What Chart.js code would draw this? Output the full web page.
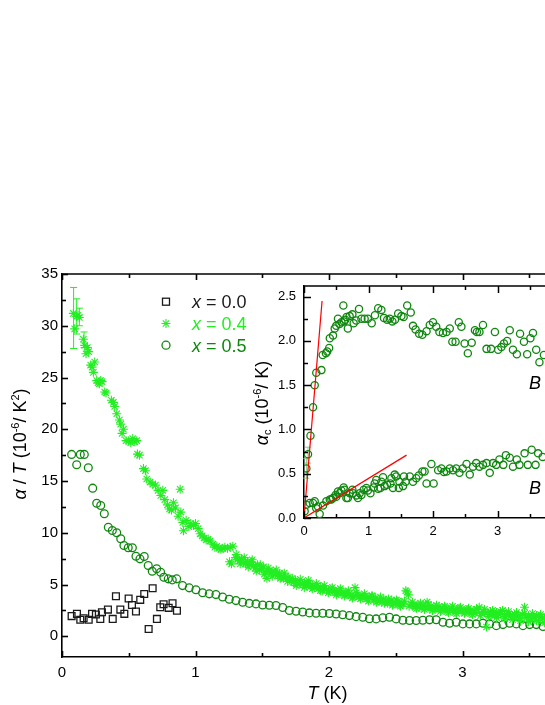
<!DOCTYPE html>
<html>
<head>
<meta charset="utf-8">
<script src="https://cdn.jsdelivr.net/npm/chart.js@4.4.1/dist/chart.umd.min.js"></script>
<style>
html,body{margin:0;padding:0;background:#fff;}
#wrap{position:relative;width:545px;height:705px;overflow:hidden;background:#fff;}
canvas{position:absolute;left:0;top:0;}
</style>
</head>
<body>
<div id="wrap">
<canvas id="main" width="640" height="705"></canvas>
<canvas id="inset" width="640" height="705"></canvas>
</div>
<script>
// ---------------- DATA ----------------
// Main panel: alpha/T (10^-6 / K^2) vs T (K)
const seriesNames = ['x = 0.0', 'x = 0.4', 'x = 0.5'];

const x00_T = [0.072,0.112,0.137,0.162,0.2,0.225,0.254,0.287,0.299,0.344,0.38,0.404,0.437,0.467,0.499,0.524,0.554,0.586,0.616,0.649,0.679,0.711,0.736,0.761,0.799,0.828,0.861];
const x00_V = [1.95,2.17,1.6,1.74,1.6,2.17,2.1,1.68,2.32,2.58,1.68,3.87,2.58,2.17,3.65,3.03,2.39,3.52,4.08,0.71,4.64,1.68,2.8,3.1,2.75,3.19,2.47];

const x04_T = [0.085,0.095,0.11,0.12,0.13,0.16,0.17,0.18,0.19,0.2,0.215,0.225,0.235,0.245,0.26,0.27,0.28,0.29,0.3,0.32,0.33,0.37,0.385,0.395,0.41,0.43,0.44,0.45,0.46,0.48,0.5,0.515,0.53,0.545,0.56,0.565,0.58,0.61,0.625,0.635,0.66,0.68,0.7,0.72,0.74,0.755,0.77,0.79,0.805,0.82,0.835,0.85,0.87,0.885,0.89,0.905,0.91,0.93,0.95,0.965,0.985,1.0,1.02,1.035,1.05,1.065,1.08,1.095,1.11,1.13,1.145,1.16,1.175,1.19,1.205,1.22,1.24,1.255,1.26,1.27,1.28,1.3,1.315,1.33,1.345,1.36,1.375,1.39,1.405,1.42,1.435,1.45,1.465,1.48,1.495,1.51,1.52,1.535,1.55,1.565,1.58,1.6,1.615,1.63,1.645,1.66,1.675,1.69,1.705,1.72,1.735,1.75,1.765,1.78,1.8,1.815,1.83,1.845,1.86,1.875,1.89,1.905,1.92,1.935,1.95,1.965,1.98,2.0,2.015,2.03,2.045,2.06,2.075,2.09,2.105,2.12,2.135,2.15,2.165,2.18,2.195,2.21,2.225,2.24,2.255,2.27,2.285,2.3,2.32,2.335,2.35,2.365,2.38,2.395,2.41,2.425,2.44,2.455,2.47,2.485,2.5,2.515,2.53,2.545,2.56,2.575,2.595,2.6,2.615,2.63,2.645,2.66,2.675,2.69,2.705,2.72,2.735,2.75,2.765,2.78,2.795,2.81,2.825,2.84,2.855,2.87,2.885,2.9,2.915,2.93,2.945,2.96,2.975,2.99,3.005,3.02,3.035,3.05,3.065,3.08,3.095,3.11,3.125,3.14,3.155,3.17,3.18,3.195,3.21,3.225,3.24,3.255,3.27,3.285,3.3,3.315,3.33,3.345,3.36,3.375,3.39,3.405,3.42,3.435,3.45,3.465,3.48,3.495,3.51,3.525,3.54,3.555,3.57,3.585,3.6,3.615,3.63,3.645,3.66,
  1.305,1.335,1.365,1.395,1.425,1.455,1.485,1.515,1.545,1.575,1.605,1.635,1.665,1.695,1.725,1.755,1.785,1.815,1.845,1.875,1.905,1.935,1.965,1.995,2.025,2.055,2.085,2.115,2.145,2.175,2.205,2.235,2.265,2.295,2.325,2.355,2.385,2.415,2.445,2.475,2.505,2.535,2.565,2.585,2.625,2.655,2.685,2.715,2.745,2.775,2.805,2.835,2.865,2.895,2.925,2.955,2.985,3.015,3.045,3.075,3.105,3.135,3.165,3.195,3.225,3.255,3.285,3.315,3.345,3.375,3.405,3.435,3.465,3.495,3.525,3.555,3.585,3.615,3.645,3.66];
const x04_V = [31.2,29.7,30.9,31.0,30.8,28.7,28.1,27.3,27.9,27.5,26.2,26.0,25.5,26.5,24.7,24.5,24.4,24.7,24.6,23.6,23.5,22.8,22.6,22.2,21.5,20.9,20.5,19.6,20.0,18.9,18.9,18.7,19.1,18.8,18.9,17.6,17.5,16.2,16.0,15.2,14.9,14.7,14.6,14.1,13.6,14.1,13.2,12.7,12.3,12.2,12.9,12.4,11.6,14.2,12.0,11.0,10.2,11.2,10.6,10.9,10.7,10.9,10.4,9.9,9.7,9.5,9.3,9.4,9.2,8.9,8.6,8.7,8.5,8.4,8.5,8.6,8.5,7.2,8.6,7.0,8.7,7.6,7.4,7.3,7.5,7.1,7.0,7.2,6.9,7.2,6.8,6.6,6.9,6.4,6.5,6.7,6.2,5.6,6.3,6.1,6.3,6.0,5.9,6.1,5.7,5.6,5.8,5.3,5.5,5.3,5.2,5.4,5.1,5.2,5.0,5.2,4.9,5.1,4.8,4.9,4.7,4.9,4.6,4.8,4.4,4.6,4.5,4.4,4.6,4.3,4.4,4.2,4.4,4.1,4.3,4.0,4.2,4.1,3.9,3.8,4.7,4.0,3.8,3.9,3.7,3.9,3.6,3.8,3.9,3.5,3.7,3.4,3.5,3.3,3.6,3.4,3.2,3.3,3.5,3.1,3.2,3.4,3.0,3.2,3.1,4.4,4.0,2.9,3.1,3.0,2.8,3.0,2.9,2.7,3.0,2.8,3.3,2.7,2.9,2.6,2.8,2.7,2.9,2.5,2.7,2.8,2.4,2.6,2.7,2.5,2.3,2.6,2.7,2.4,2.5,2.3,2.6,2.4,2.2,2.5,2.3,2.6,2.8,2.2,2.4,2.3,0.9,2.1,2.4,2.2,2.0,2.3,2.1,2.2,2.5,1.9,2.1,2.2,2.0,1.8,2.1,1.9,2.0,1.7,2.1,2.8,1.8,2.0,1.6,1.9,1.8,2.0,1.5,1.9,1.7,1.8,1.4,1.9,1.6,
  7.9,7.0,7.6,6.7,7.4,6.3,6.9,6.0,6.6,5.8,6.4,5.6,6.1,5.7,5.6,4.9,5.5,4.7,5.4,4.6,5.1,4.4,4.9,4.2,4.7,4.0,4.6,3.9,4.4,3.7,4.2,3.6,4.1,3.4,3.9,3.3,3.8,3.2,3.6,3.0,3.5,2.9,3.4,4.3,3.3,2.7,3.2,2.6,3.1,2.5,3.0,2.4,2.9,2.3,2.9,2.2,2.8,2.2,2.7,2.1,2.6,2.0,2.6,1.9,2.5,1.8,2.4,1.7,2.4,1.6,2.3,1.5,2.2,1.4,2.2,1.5,2.1,1.3,2.0,1.3];

const x05_T = [0.072,0.11,0.137,0.167,0.197,0.23,0.26,0.29,0.317,0.347,0.377,0.41,0.44,0.464,0.496,0.527,0.554,0.584,0.616,0.646,0.676,0.709,0.739,0.763,0.796,0.826,0.859,0.903,0.953,1.003,1.053,1.103,1.153,1.203,1.253,1.303,1.353,1.403,1.453,1.503,1.553,1.603,1.653,1.703,1.753,1.803,1.853,1.903,1.953,2.003,2.053,2.103,2.153,2.203,2.253,2.303,2.353,2.403,2.453,2.503,2.553,2.603,2.653,2.703,2.753,2.803,2.853,2.903,2.953,3.003,3.053,3.103,3.153,3.203,3.253,3.303,3.353,3.403,3.453,3.503,3.553,3.603];
const x05_V = [17.57,16.57,17.57,17.57,16.28,14.31,12.86,12.64,11.84,10.54,10.22,10.0,9.42,8.77,8.55,8.55,7.74,7.48,7.71,6.84,6.29,6.52,6.19,5.71,5.55,5.45,5.55,4.9,4.68,4.49,4.2,4.1,4.03,3.8,3.58,3.45,3.29,3.18,3.13,3.02,3.0,2.97,2.78,2.49,2.42,2.35,2.26,2.23,2.23,2.2,2.15,2.08,2.0,1.9,1.84,1.7,1.68,1.78,1.84,1.68,1.55,1.52,1.52,1.55,1.59,1.6,1.35,1.26,1.35,1.2,1.2,1.2,1.26,1.2,1.03,1.13,1.26,1.2,1.03,1.13,1.13,0.94];

// error bars on the lowest-T x = 0.4 points
const err04_T  = [0.087,0.11,0.13,0.165];
const err04_Lo = [27.8,29.2,30.0,27.9];
const err04_Hi = [33.7,32.6,31.7,29.4];

// Inset: alpha_c (10^-6 / K) vs T (K), two field directions
const insUp_T = [0.037,0.062,0.1,0.14,0.166,0.19,0.27,0.29,0.34,0.36,0.39,0.40,0.45,0.476,0.5,0.527,0.55,0.58,0.61,0.62,0.64,0.66,0.68,0.708,0.75,0.77,0.81,0.853,0.89,0.94,0.99,1.05,1.1,1.15,1.2,1.24,1.29,1.33,1.37,1.41,1.46,1.51,1.545,1.6,1.655,1.69,1.73,1.785,1.835,1.9,1.95,2.0,2.05,2.1,2.155,2.21,2.26,2.3,2.35,2.4,2.44,2.49,2.54,2.6,2.65,2.68,2.72,2.775,2.83,2.9,2.96,3.01,3.06,3.1,3.15,3.19,3.24,3.3,3.35,3.41,3.46,3.51,3.55,3.6,3.65,3.72];
const insUp_V = [0.56,0.72,0.93,1.25,1.5,1.64,1.67,1.84,1.86,1.88,1.92,2.03,2.06,2.14,2.17,2.25,2.19,2.21,2.40,2.22,2.24,2.27,2.14,2.28,2.3,2.2,2.23,2.36,2.25,2.25,2.25,2.2,2.29,2.37,2.35,2.26,2.24,2.25,2.22,2.24,2.31,2.28,2.27,2.40,2.32,2.17,2.13,2.08,2.07,2.11,2.18,2.21,2.16,2.1,2.09,2.1,2.14,1.99,1.99,2.21,2.16,1.97,1.86,1.98,2.12,2.1,2.1,2.18,1.91,1.91,2.1,1.9,1.93,1.97,2.0,2.12,1.9,1.85,2.08,1.99,1.85,2.03,2.09,1.9,1.76,1.84];

const insLo_T = [0.01,0.037,0.088,0.14,0.166,0.19,0.217,0.243,0.295,0.347,0.4,0.425,0.45,0.49,0.5,0.527,0.553,0.58,0.615,0.63,0.657,0.68,0.708,0.75,0.76,0.81,0.837,0.864,0.89,0.925,0.967,0.99,1.03,1.08,1.096,1.12,1.15,1.185,1.2,1.225,1.25,1.287,1.34,1.355,1.38,1.406,1.43,1.47,1.48,1.535,1.55,1.576,1.64,1.69,1.74,1.78,1.835,1.87,1.9,1.975,2.01,2.08,2.13,2.17,2.21,2.26,2.31,2.36,2.41,2.46,2.52,2.57,2.62,2.67,2.72,2.775,2.83,2.88,2.93,2.98,3.03,3.09,3.13,3.19,3.24,3.3,3.34,3.42,3.47,3.53,3.59,3.63,3.7];
const insLo_V = [0.075,0.15,0.17,0.17,0.19,0.11,0.13,0.045,0.14,0.19,0.21,0.21,0.225,0.26,0.24,0.3,0.28,0.31,0.345,0.32,0.225,0.225,0.28,0.32,0.28,0.255,0.225,0.28,0.26,0.32,0.34,0.31,0.28,0.345,0.39,0.43,0.33,0.34,0.41,0.46,0.36,0.375,0.39,0.45,0.34,0.49,0.47,0.34,0.41,0.36,0.47,0.41,0.47,0.41,0.45,0.48,0.525,0.525,0.39,0.61,0.39,0.54,0.56,0.52,0.525,0.56,0.54,0.56,0.51,0.56,0.61,0.49,0.58,0.62,0.58,0.6,0.62,0.51,0.62,0.6,0.66,0.6,0.71,0.68,0.58,0.66,0.6,0.73,0.6,0.77,0.6,0.73,0.69];

const errIns_T  = [0.037,0.062];
const errIns_Lo = [0.45,0.62];
const errIns_Hi = [0.67,0.80];

// linear guides (red) in the inset
const fit1_T = [0, 0.28];
const fit1_V = [0, 2.45];
const fit2_T = [0, 1.59];
const fit2_V = [0, 0.71];

// tick positions
const mainXTicks = [0,0.5,1,1.5,2,2.5,3,3.5,4];
const mainYTicks = [0,2.5,5,7.5,10,12.5,15,17.5,20,22.5,25,27.5,30,32.5,35];
const insXTicks = [0,0.5,1,1.5,2,2.5,3,3.5,4];
const insYTicks = [0,0.25,0.5,0.75,1,1.25,1.5,1.75,2,2.25,2.5];

// ---------------- STYLE ----------------
const FAM = '"Liberation Sans", Arial, Helvetica, sans-serif';
const C_BLACK = '#1a1a1a';
const C_LIME = '#22ee22';
const C_DG = '#0f870f';
const C_RED = '#ff0000';

function pts(T, V){ return T.map((t,i)=>({x:t, y:V[i]})); }

function drawRich(ctx, parts, x, y, size, align){
  const fontFor = p => `${p.i?'italic ':''}${(p.sup||p.sub)?Math.round(size*0.62):size}px ${FAM}`;
  let w = 0;
  parts.forEach(p=>{ ctx.font = fontFor(p); p.w = ctx.measureText(p.t).width; w += p.w; });
  let cx = align==='center' ? x - w/2 : (align==='right' ? x - w : x);
  ctx.textAlign = 'left'; ctx.textBaseline = 'alphabetic';
  parts.forEach(p=>{
    ctx.font = fontFor(p);
    const dy = p.sup ? -size*0.38 : (p.sub ? size*0.2 : 0);
    ctx.fillText(p.t, cx, y + dy);
    cx += p.w;
  });
}

function line(ctx,x1,y1,x2,y2){ ctx.beginPath(); ctx.moveTo(x1,y1); ctx.lineTo(x2,y2); ctx.stroke(); }

function drawTicks(chart, xt, yt, xMajor, yMajor, lenMaj, lenMin, lw){
  const {ctx, chartArea:a, scales:{x,y}} = chart;
  ctx.save();
  ctx.strokeStyle = '#000'; ctx.lineWidth = lw;
  line(ctx, a.left, a.top, a.right, a.top);
  xt.forEach(v=>{
    const px = Math.round(x.getPixelForValue(v)) + 0.5;
    const L = (Math.abs(v/xMajor - Math.round(v/xMajor))<1e-6) ? lenMaj : lenMin;
    line(ctx, px, a.bottom, px, a.bottom - L);
    line(ctx, px, a.top, px, a.top + L);
  });
  yt.forEach(v=>{
    const py = Math.round(y.getPixelForValue(v)) + 0.5;
    const L = (Math.abs(v/yMajor - Math.round(v/yMajor))<1e-6) ? lenMaj : lenMin;
    line(ctx, a.left, py, a.left + L, py);
  });
  ctx.restore();
}

function drawErr(chart, T, lo, hi, color, cap, lw){
  const {ctx, scales:{x,y}} = chart;
  ctx.save(); ctx.strokeStyle = color; ctx.lineWidth = lw;
  T.forEach((t,i)=>{
    const px = x.getPixelForValue(t), p1 = y.getPixelForValue(lo[i]), p2 = y.getPixelForValue(hi[i]);
    line(ctx, px, p1, px, p2);
    line(ctx, px-cap, p1, px+cap, p1);
    line(ctx, px-cap, p2, px+cap, p2);
  });
  ctx.restore();
}

const mainDecor = {
  id: 'mainDecor',
  beforeDatasetsDraw(chart){
    drawErr(chart, err04_T, err04_Lo, err04_Hi, C_LIME, 3.5, 1);
  },
  afterDraw(chart){
    const ctx = chart.ctx;
    drawTicks(chart, mainXTicks, mainYTicks, 1, 5, 6, 4, 1.6);
    ctx.save();
    ctx.fillStyle = '#000';
    // x title
    drawRich(ctx, [{t:'T',i:1},{t:' (K)'}], 327.5, 699, 18, 'center');
    // y title
    ctx.translate(19, 444); ctx.rotate(-Math.PI/2);
    drawRich(ctx, [{t:'α',i:1},{t:' / '},{t:'T',i:1},{t:' (10'},{t:'-6',sup:1},{t:'/ K'},{t:'2',sup:1},{t:')'}], 0, 6.5, 18, 'center');
    ctx.restore();
    // legend
    ctx.save();
    const lx = 166, ty = [301.7, 323.5, 345.2], tx = 192;
    ctx.lineWidth = 1.3;
    ctx.strokeStyle = C_BLACK; ctx.strokeRect(lx-3.5, ty[0]-3.5, 7, 7);
    ctx.strokeStyle = C_LIME; ctx.lineWidth = 1.1;
    for (let k=0;k<4;k++){ const an = k*Math.PI/4; line(ctx, lx-4.5*Math.cos(an), ty[1]-4.5*Math.sin(an), lx+4.5*Math.cos(an), ty[1]+4.5*Math.sin(an)); }
    ctx.strokeStyle = C_DG; ctx.lineWidth = 1.3;
    ctx.beginPath(); ctx.arc(lx, ty[2], 4, 0, 2*Math.PI); ctx.stroke();
    const cols = [C_BLACK, C_LIME, C_DG];
    seriesNames.forEach((nm,i)=>{
      ctx.fillStyle = cols[i];
      drawRich(ctx, [{t:'x',i:1},{t:nm.slice(1)}], tx, ty[i]+6.5, 18, 'left');
    });
    ctx.restore();
  }
};

const tickFont = {family: FAM, size: 15};

new Chart(document.getElementById('main'), {
  type: 'scatter',
  data: { datasets: [
    { label: seriesNames[0], data: pts(x00_T, x00_V), pointStyle:'rect', pointRadius:4.8, pointBorderWidth:1.3, pointBorderColor:C_BLACK, pointBackgroundColor:'rgba(0,0,0,0)', borderColor:C_BLACK },
    { label: seriesNames[1], data: pts(x04_T, x04_V), pointStyle:'star', pointRadius:4.5, pointBorderWidth:1.1, pointBorderColor:C_LIME, pointBackgroundColor:'rgba(0,0,0,0)', borderColor:C_LIME },
    { label: seriesNames[2], data: pts(x05_T, x05_V), pointStyle:'circle', pointRadius:3.9, pointBorderWidth:1.3, pointBorderColor:C_DG, pointBackgroundColor:'rgba(0,0,0,0)', borderColor:C_DG }
  ]},
  options: {
    responsive:false, animation:false, events:[],
    plugins:{ legend:{display:false}, tooltip:{enabled:false} },
    layout:{ padding:{ top:274, right:44, left:0, bottom:0 } },
    scales:{
      x:{ type:'linear', min:0, max:4, afterFit(s){ s.height = 48; },
          ticks:{ stepSize:1, font:tickFont, color:'#000', padding:7, includeBounds:false },
          grid:{ display:false, drawTicks:false }, border:{ display:true, color:'#000', width:1.6 } },
      y:{ type:'linear', min:-2, max:35, afterFit(s){ s.width = 62; },
          ticks:{ stepSize:5, font:tickFont, color:'#000', padding:4, includeBounds:false },
          grid:{ display:false, drawTicks:false }, border:{ display:true, color:'#000', width:1.6 } }
    }
  },
  plugins:[mainDecor]
});

const insetDecor = {
  id:'insetDecor',
  beforeDatasetsDraw(chart){
    drawErr(chart, errIns_T, errIns_Lo, errIns_Hi, '#88cc88', 3, 1);
  },
  afterDraw(chart){
    const ctx = chart.ctx;
    drawTicks(chart, insXTicks, insYTicks, 1, 0.5, 7, 4, 1.5);
    ctx.save();
    ctx.fillStyle = '#000';
    drawRich(ctx, [{t:'B',i:1}], 529, 389, 18, 'left');
    drawRich(ctx, [{t:'B',i:1}], 529, 494, 18, 'left');
    ctx.translate(261, 403); ctx.rotate(-Math.PI/2);
    drawRich(ctx, [{t:'α',i:1},{t:'c',sub:1},{t:' (10'},{t:'-6',sup:1},{t:'/ K)'}], 0, 6.5, 18, 'center');
    ctx.restore();
  }
};

const insTickFont = {family: FAM, size: 13};

new Chart(document.getElementById('inset'), {
  type:'scatter',
  data:{ datasets:[
    { label:'fit1', type:'line', data: pts(fit1_T, fit1_V), showLine:true, borderColor:C_RED, borderWidth:1.2, pointRadius:0, fill:false },
    { label:'fit2', type:'line', data: pts(fit2_T, fit2_V), showLine:true, borderColor:C_RED, borderWidth:1.2, pointRadius:0, fill:false },
    { label:'upper', data: pts(insUp_T, insUp_V), pointStyle:'circle', pointRadius:3.6, pointBorderWidth:1.3, pointBorderColor:C_DG, pointBackgroundColor:'rgba(0,0,0,0)', borderColor:C_DG },
    { label:'lower', data: pts(insLo_T, insLo_V), pointStyle:'circle', pointRadius:3.6, pointBorderWidth:1.3, pointBorderColor:C_DG, pointBackgroundColor:'rgba(0,0,0,0)', borderColor:C_DG }
  ]},
  options:{
    responsive:false, animation:false, events:[],
    plugins:{ legend:{display:false}, tooltip:{enabled:false} },
    layout:{ padding:{ top:286, right:78, left:0, bottom:162 } },
    scales:{
      x:{ type:'linear', min:0, max:4, afterFit(s){ s.height = 25; },
          ticks:{ stepSize:1, font:insTickFont, color:'#000', padding:6, includeBounds:false },
          grid:{ display:false, drawTicks:false }, border:{ display:true, color:'#000', width:1.5 } },
      y:{ type:'linear', min:0, max:2.62, afterFit(s){ s.width = 304; },
          ticks:{ stepSize:0.5, font:insTickFont, color:'#000', padding:8, includeBounds:false, callback:v=>Number(v).toFixed(1) },
          grid:{ display:false, drawTicks:false }, border:{ display:true, color:'#000', width:1.5 } }
    }
  },
  plugins:[insetDecor]
});
</script>
</body>
</html>
